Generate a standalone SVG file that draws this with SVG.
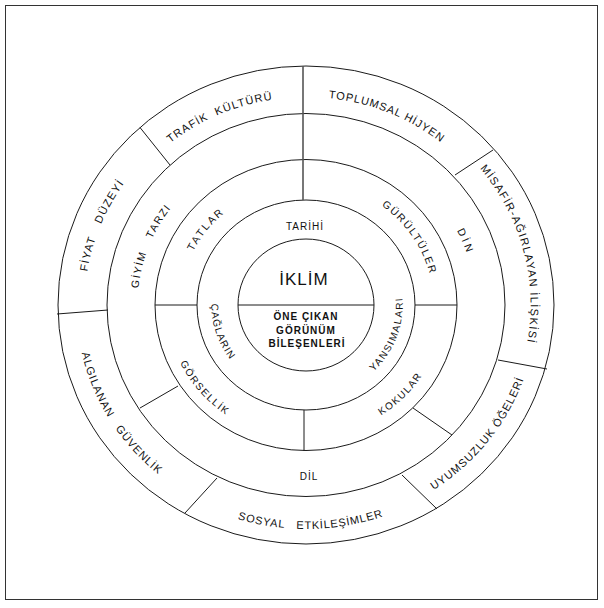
<svg xmlns="http://www.w3.org/2000/svg" width="604" height="608" viewBox="0 0 604 608">
<style>
.ring{fill:none;stroke:#1a1a1a;stroke-width:1}
.div{stroke:#1a1a1a;stroke-width:1;fill:none}
.axis{stroke:#555;stroke-width:1.6;fill:none}
text{font-family:"Liberation Sans",Arial,sans-serif;fill:#111}
.o{font-size:11px}
.m{font-size:10.5px}
.s{font-size:10px}
.c{font-size:10px;font-weight:bold;letter-spacing:1px}
</style>
<defs>
<path id="pTrafik" d="M93.5,266.4 A216.3,208 0 0 1 416.4,126.1"/>
<path id="pToplum" d="M190.7,129 A216.3,208 0 0 1 517.4,261.1"/>
<path id="pMisafir" d="M385.4,103 A224.6,216 0 0 1 476.3,445.9"/>
<path id="pFiyat" d="M121.3,422.6 A221.5,213 0 0 1 254.3,97.9"/>
<path id="pAlgi" d="M96.4,214.4 A229.8,221 0 0 0 289.2,525.4"/>
<path id="pSosyal" d="M118,437.3 A233,224 0 0 0 499.6,429.6"/>
<path id="pUyum" d="M296.7,526.8 A230.9,222 0 0 0 526,237.5"/>
<path id="pGiyim" d="M166.3,395.6 A168.5,162 0 0 1 265.2,147.8"/>
<path id="pDin" d="M385.3,160.9 A169.5,163 0 0 1 467.3,355.1"/>
<path id="pTatlar" d="M180.3,309.9 A125.8,121 0 0 1 279.2,186.8"/>
<path id="pGurul" d="M320.5,182.8 A127.9,123 0 0 1 428.6,339.9"/>
<path id="pGorsel" d="M167.1,293.3 A139.4,134 0 0 0 293.8,438.5"/>
<path id="pKoku" d="M320.3,436.3 A137.3,132 0 0 0 443,314.2"/>
<path id="pCag" d="M221.7,263.7 A94.6,91 0 0 0 263.1,386.1"/>
<path id="pYans" d="M339.1,392.4 A96.7,93 0 0 0 389.7,258.5"/>
</defs>
<rect x="5.5" y="5.5" width="592" height="594" fill="#fff" stroke="#333" stroke-width="1"/>
<g id="rings">
<ellipse class="ring" cx="306" cy="305" rx="248" ry="239"/>
<ellipse class="ring" cx="306" cy="305" rx="199" ry="191.5"/>
<ellipse class="ring" cx="306" cy="305" rx="151" ry="145.5"/>
<ellipse class="ring" cx="306" cy="305" rx="109" ry="105"/>
<ellipse class="ring" cx="306" cy="305" rx="68" ry="66"/>
</g>
<g id="connectors">
<line class="axis" x1="303" y1="66" x2="303" y2="200"/>
<line class="div" x1="238" y1="305" x2="374" y2="305"/>
<line class="div" x1="155" y1="305" x2="197" y2="305"/>
<line class="div" x1="415" y1="305" x2="457" y2="305"/>
<line class="div" x1="304" y1="410" x2="304" y2="451"/>
<line class="div" x1="178" y1="386" x2="140" y2="408"/>
<line class="div" x1="413" y1="408" x2="452" y2="435"/>
<line class="div" x1="170" y1="165" x2="140" y2="127.5"/>
<line class="div" x1="57" y1="314" x2="108" y2="310"/>
<line class="div" x1="217" y1="478" x2="185" y2="513"/>
<line class="div" x1="402" y1="475" x2="437" y2="509"/>
<line class="div" x1="498" y1="360" x2="547" y2="369"/>
<line class="div" x1="455" y1="175" x2="493" y2="150"/>
</g>
<g id="core">
<text x="304" y="285" text-anchor="middle" font-size="17" letter-spacing="1">İKLİM</text>
<text class="c" text-anchor="middle"><tspan x="306" y="320">ÖNE ÇIKAN</tspan><tspan x="306" y="334">GÖRÜNÜM</tspan><tspan x="307" y="347">BİLEŞENLERİ</tspan></text>
</g>
<g id="ring1">
<text class="s" x="305" y="230" text-anchor="middle" letter-spacing="1">TARİHİ</text>
<text class="s" letter-spacing="1.2"><textPath href="#pCag" startOffset="50%" text-anchor="middle">ÇAĞLARIN</textPath></text>
<text class="s" letter-spacing="1.5"><textPath href="#pYans" startOffset="50%" text-anchor="middle">YANSIMALARI</textPath></text>
</g>
<g id="ring2">
<text class="m" letter-spacing="2"><textPath href="#pTatlar" startOffset="50%" text-anchor="middle">TATLAR</textPath></text>
<text class="m" letter-spacing="1.6"><textPath href="#pGurul" startOffset="50%" text-anchor="middle">GÜRÜLTÜLER</textPath></text>
<text class="s" letter-spacing="1.6"><textPath href="#pGorsel" startOffset="50%" text-anchor="middle">GÖRSELLİK</textPath></text>
<text class="s" letter-spacing="1.5"><textPath href="#pKoku" startOffset="50%" text-anchor="middle">KOKULAR</textPath></text>
</g>
<g id="ring3">
<text class="m" letter-spacing="1.5" word-spacing="10"><textPath href="#pGiyim" startOffset="50%" text-anchor="middle">GİYİM TARZI</textPath></text>
<text class="m" letter-spacing="3"><textPath href="#pDin" startOffset="50%" text-anchor="middle">DİN</textPath></text>
<text class="s" x="309" y="480" text-anchor="middle" letter-spacing="1">DİL</text>
</g>
<g id="ring4">
<text class="o" letter-spacing="1.1" word-spacing="4"><textPath href="#pTrafik" startOffset="50%" text-anchor="middle">TRAFİK KÜLTÜRÜ</textPath></text>
<text class="o" letter-spacing="0.9"><textPath href="#pToplum" startOffset="50%" text-anchor="middle">TOPLUMSAL HİJYEN</textPath></text>
<text class="o" letter-spacing="1.3"><textPath href="#pMisafir" startOffset="50%" text-anchor="middle">MİSAFİR-AĞIRLAYAN İLİŞKİSİ</textPath></text>
<text class="o" letter-spacing="1.2" word-spacing="10"><textPath href="#pFiyat" startOffset="50%" text-anchor="middle">FİYAT DÜZEYİ</textPath></text>
<text class="o" letter-spacing="1" word-spacing="8"><textPath href="#pAlgi" startOffset="50%" text-anchor="middle">ALGILANAN GÜVENLİK</textPath></text>
<text class="o" letter-spacing="0.8" word-spacing="8"><textPath href="#pSosyal" startOffset="50%" text-anchor="middle">SOSYAL ETKİLEŞİMLER</textPath></text>
<text class="o" letter-spacing="1"><textPath href="#pUyum" startOffset="50%" text-anchor="middle">UYUMSUZLUK ÖĞELERİ</textPath></text>
</g>
</svg>
